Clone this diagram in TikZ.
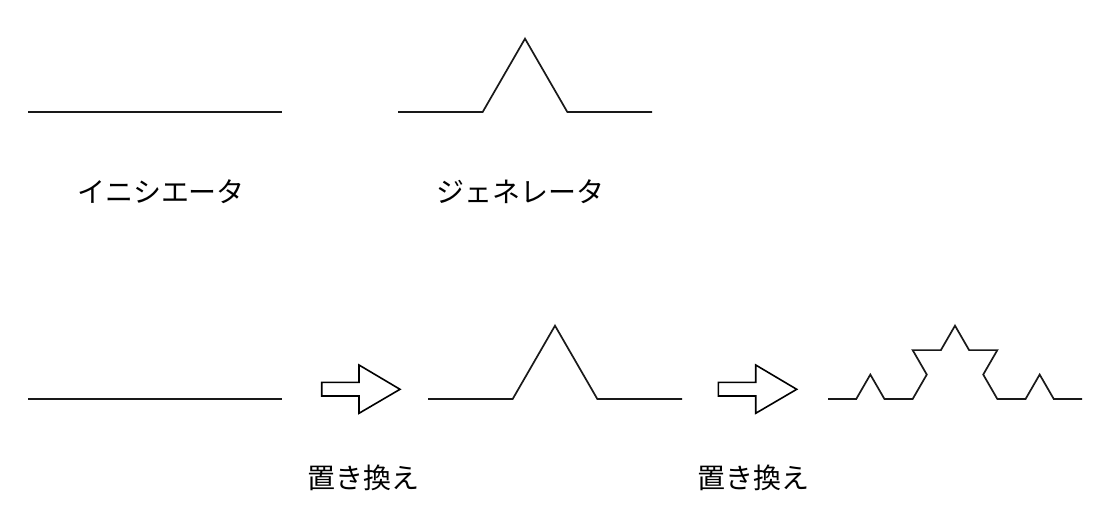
\documentclass[tikz,border=0pt]{standalone}
\usepackage{fontspec}
\newfontfamily\jp{Noto Sans CJK JP}
\begin{document}
\begin{tikzpicture}[x=1pt,y=-1pt,
  curve/.style={line width=1.7pt,line join=miter,black!90},
  bigarrow/.style={line width=1.6pt,line join=miter,fill=white,draw=black},
  label/.style={font=\jp\fontsize{28}{34}\selectfont,inner sep=0pt,anchor=base}]
\useasboundingbox (0,0) rectangle (1120,522);
\def\s{84.6667}
\def\t{28.2222}
% initiator
\draw[curve] (28,112) -- (282,112);
% generator
\draw[curve] (398,112) -- ++(0:\s) -- ++(-60:\s) -- ++(60:\s) -- ++(0:\s);
\node[label] (ini) at (161,202.5) {イニシエータ};
\node[label] (gen) at (520,202.5) {ジェネレータ};
% bottom row
\draw[curve] (28,399) -- (282,399);
\draw[bigarrow] (321.7,382.3) -- (359,382.3) -- (359,365) -- (400,389.3) -- (359,413.3) -- (359,396) -- (321.7,396) -- cycle;
\draw[curve] (428,399) -- ++(0:\s) -- ++(-60:\s) -- ++(60:\s) -- ++(0:\s);
\begin{scope}[xshift=396.7pt]
\draw[bigarrow] (321.7,382.3) -- (359,382.3) -- (359,365) -- (400,389.3) -- (359,413.3) -- (359,396) -- (321.7,396) -- cycle;
\end{scope}
\draw[curve] (828,399)
  -- ++(0:\t) -- ++(-60:\t) -- ++(60:\t) -- ++(0:\t)
  -- ++(-60:\t) -- ++(-120:\t) -- ++(0:\t) -- ++(-60:\t)
  -- ++(60:\t) -- ++(0:\t) -- ++(120:\t) -- ++(60:\t)
  -- ++(0:\t) -- ++(-60:\t) -- ++(60:\t) -- ++(0:\t);
\node[label] (rep1) at (363,488.5) {置き換え};
\node[label] (rep2) at (753,488.5) {置き換え};
\end{tikzpicture}
\end{document}
